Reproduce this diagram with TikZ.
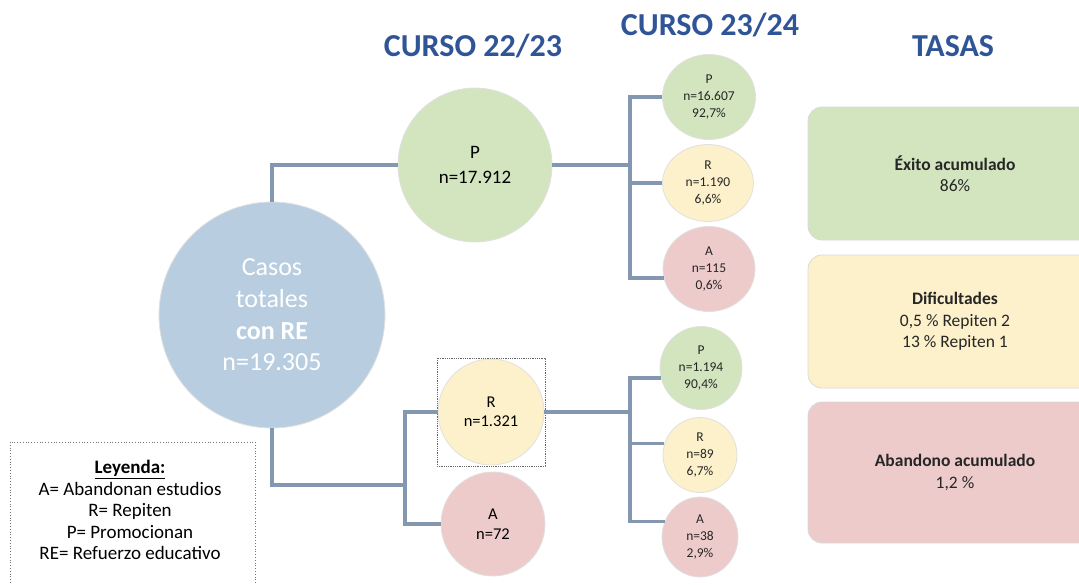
\documentclass[tikz,border=0pt]{standalone}
\usepackage{fontspec}
\setmainfont{Carlito}
\usetikzlibrary{shapes.geometric}
\definecolor{titulo}{HTML}{2F5597}
\definecolor{azul}{HTML}{B9CDE1}
\definecolor{verde}{HTML}{D3E5BF}
\definecolor{amarillo}{HTML}{FDF1CB}
\definecolor{rosa}{HTML}{EECBCB}
\definecolor{linea}{HTML}{8497B0}

\begin{document}
\begin{tikzpicture}[x=1pt,y=-1pt,
  conn/.style={draw=linea, line width=3.5pt},
  bola/.style={circle, inner sep=0pt, align=center, draw=black!12, line width=0.8pt},
  bolita/.style={ellipse, inner sep=0pt, align=center, draw=black!12, line width=0.8pt, text=black!85,
    font=\fontsize{13.5}{17}\selectfont},
  tasa/.style={rectangle, rounded corners=14pt, draw=black!15, line width=0.8pt, minimum width=294pt,
    align=center, text=black!85, font=\fontsize{17.5}{21.5}\selectfont},
  curso/.style={font=\fontsize{32}{38}\selectfont\bfseries, text=titulo}]
\useasboundingbox (0,0) rectangle (1079,584);
\clip (0,0) rectangle (1079,584);

% titulos
\node[curso] (c1) at (473,46) {CURSO 22/23};
\node[curso] (c2) at (710,25) {CURSO 23/24};
\node[curso] (tasas) at (953,46) {TASAS};

% curso 22/23
\node[bola, fill=azul, minimum size=226pt, text=white, font=\fontsize{26}{31.7}\selectfont]
  (tot) at (272,315) {Casos\\totales\\\textbf{con RE}\\n=19.305};
\node[bola, fill=verde, minimum size=154pt, font=\fontsize{19}{25}\selectfont] (pP) at (475,165) {P\\n=17.912};
\node[bola, fill=amarillo, minimum size=106pt, font=\fontsize{16.5}{19.5}\selectfont] (rR) at (491,412) {R\\n=1.321};
\node[bola, fill=rosa, minimum size=104pt, font=\fontsize{16.5}{19.5}\selectfont] (aR) at (493,524) {A\\n=72};
\draw[black!60, densely dotted, line width=0.8pt] (437,358) rectangle (545,466);

% curso 23/24
\node[bolita, fill=verde, minimum width=93pt, minimum height=85pt] (p1) at (709,97) {P\\n=16.607\\92,7\%};
\node[bolita, fill=amarillo, minimum width=91pt, minimum height=77pt] (r1) at (708,183) {R\\n=1.190\\6,6\%};
\node[bolita, fill=rosa, minimum width=92pt, minimum height=85pt] (a1) at (709,269) {A\\n=115\\0,6\%};
\node[bolita, fill=verde, minimum width=82pt, minimum height=83pt] (p2) at (701,368) {P\\n=1.194\\90,4\%};
\node[bolita, fill=amarillo, minimum width=74pt, minimum height=75pt] (r2) at (700,455) {R\\n=89\\6,7\%};
\node[bolita, fill=rosa, minimum width=76pt, minimum height=80pt] (a2) at (700,537) {A\\n=38\\2,9\%};

% conectores
\coordinate (jl) at (405,485);
\coordinate (jt) at (630,165);
\coordinate (jb) at (630,412);
\draw[conn] (tot.north) |- (pP.west);
\draw[conn] (tot.south) |- (jl);
\draw[conn] (rR.west) -| (jl |- aR.west) -- (aR.west);
\draw[conn] (pP.east) -- (jt);
\draw[conn] (p1.west) -| (jt |- a1.191) -- (a1.191);
\draw[conn] (jt |- r1.west) -- (r1.west);
\draw[conn] (rR.east) -- (jb);
\draw[conn] (p2.194) -| (jb |- a2.156) -- (a2.156);
\draw[conn] (jb |- r2.162) -- (r2.162);

% tasas
\node[tasa, fill=verde, minimum height=133pt] (exito) at (955,173.5) {\textbf{Éxito acumulado}\\86\%};
\node[tasa, fill=amarillo, minimum height=133pt] (dif) at (955,321.5) {\textbf{Dificultades}\\0,5 \% Repiten 2\\13 \% Repiten 1};
\node[tasa, fill=rosa, minimum height=141pt] (aband) at (955,472.5) {\textbf{Abandono acumulado}\\1,2 \%};

% leyenda
\draw[black!55, dotted, line width=0.8pt] (10,442) rectangle (255,600);
\node[align=center, font=\fontsize{19}{21.5}\selectfont] (ley) at (130,510)
  {\underline{\textbf{Leyenda:}}\\A= Abandonan estudios\\R= Repiten\\P= Promocionan\\RE= Refuerzo educativo};
\end{tikzpicture}
\end{document}
